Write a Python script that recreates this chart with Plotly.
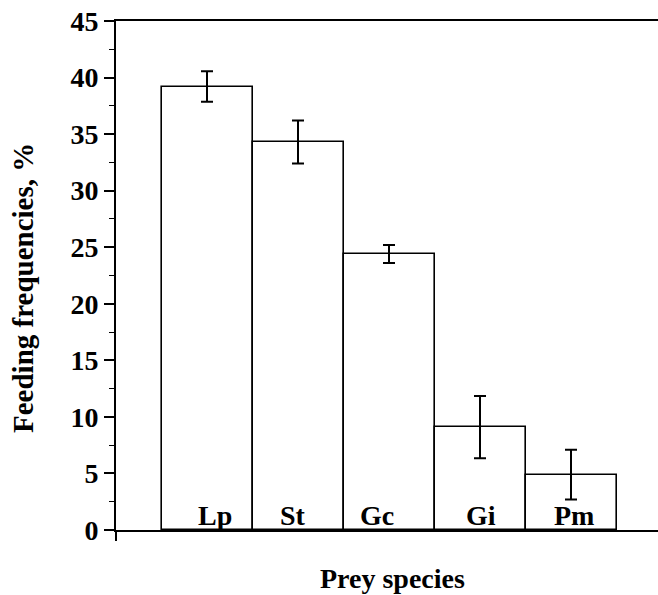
import plotly.graph_objects as go

species = ["Lp", "St", "Gc", "Gi", "Pm"]
freq = [39.2, 34.3, 24.4, 9.1, 4.9]
err = [1.35, 1.9, 0.8, 2.75, 2.2]
y_ticks = [0, 5, 10, 15, 20, 25, 30, 35, 40, 45]

label_xshift = [8, -5, -12, 1, 3]

FONT = "Liberation Serif"
W, H = 658, 595
L, T, B, R = 116, 21, 65, 0

xs = list(range(len(species)))

fig = go.Figure()
fig.add_trace(go.Bar(
    x=xs, y=freq, width=1.0,
    marker=dict(color="white", line=dict(color="black", width=1.6)),
    error_y=dict(type="data", array=err, visible=True, color="black",
                 thickness=2, width=6),
    showlegend=False,
))

for i, s in enumerate(species):
    fig.add_annotation(x=xs[i], y=0, xref="x", yref="y", text="<b>%s</b>" % s,
                       showarrow=False, yanchor="bottom", xshift=label_xshift[i],
                       yshift=-3,
                       font=dict(family=FONT, size=28, color="black"))

fig.add_annotation(x=(392 - L) / (W - L - R), y=(H - 578 - B) / (H - T - B),
                   xref="paper", yref="paper", text="<b>Prey species</b>",
                   showarrow=False, xanchor="center", yanchor="middle",
                   font=dict(family=FONT, size=28, color="black"))
fig.add_annotation(x=(23 - L) / (W - L - R), y=(H - 288 - B) / (H - T - B),
                   xref="paper", yref="paper", text="<b>Feeding frequencies, %</b>",
                   showarrow=False, textangle=-90, xanchor="center", yanchor="middle",
                   font=dict(family=FONT, size=29, color="black"))

fig.update_layout(
    width=W, height=H,
    margin=dict(l=L, r=R, t=T, b=B, pad=0),
    paper_bgcolor="white", plot_bgcolor="white",
    bargap=0,
    font=dict(family=FONT, color="black"),
)
fig.update_xaxes(
    range=[-1, 4.956], showgrid=False, zeroline=False,
    showline=True, linecolor="black", linewidth=2, mirror=True,
    tickvals=[-1], ticktext=[""], ticks="outside", ticklen=9, tickwidth=1.5,
    tickcolor="black",
)
fig.update_yaxes(
    range=[0, 45], showgrid=False, zeroline=False,
    showline=True, linecolor="black", linewidth=2,
    tickvals=y_ticks, ticktext=["<b>%d</b>" % v for v in y_ticks],
    ticks="outside", ticklen=10, tickwidth=1.5, tickcolor="black",
    tickfont=dict(family=FONT, size=28, color="black"),
    minor=dict(dtick=2.5, tick0=0, ticks="outside", ticklen=5, tickwidth=1, tickcolor="black"),
)

fig.write_html("out.html")
